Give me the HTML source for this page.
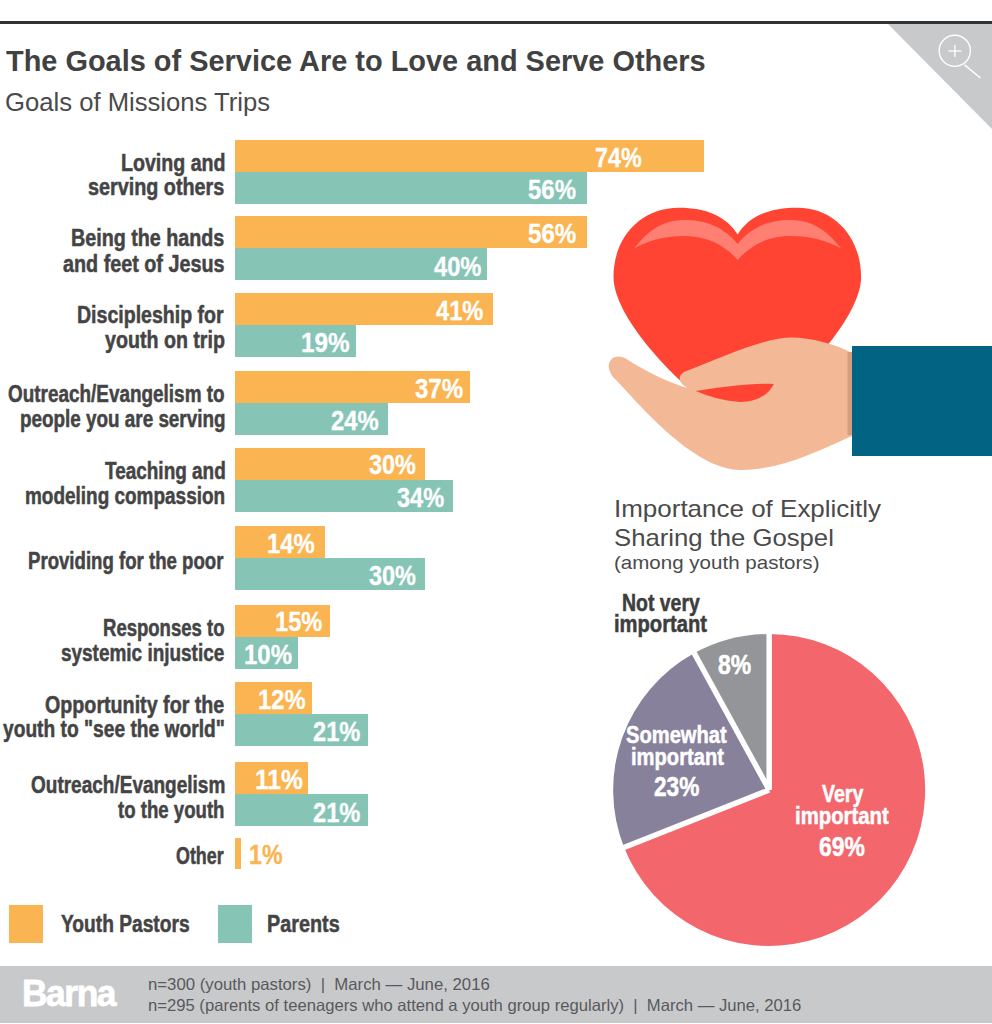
<!DOCTYPE html>
<html><head><meta charset="utf-8">
<style>
html,body{margin:0;padding:0;background:#fff;}
body{width:992px;height:1024px;position:relative;overflow:hidden;font-family:"Liberation Sans",sans-serif;}
.a{position:absolute;white-space:nowrap;}
.topline{position:absolute;left:0;top:21px;width:992px;height:3px;background:#333;}
.bar{position:absolute;left:235px;height:32px;}
.o{background:#FAB451;}
.t{background:#86C5B6;}
.lab{position:absolute;white-space:nowrap;font-weight:bold;color:#444;-webkit-text-stroke:0.5px currentColor;font-size:23px;line-height:1;transform-origin:0 0;}
.pct{position:absolute;white-space:nowrap;font-weight:bold;color:#fff;-webkit-text-stroke:0.3px currentColor;font-size:27px;line-height:1;transform-origin:0 0;}
.leg{position:absolute;top:905px;width:34px;height:38px;}
.tx{position:absolute;white-space:nowrap;line-height:1;transform-origin:0 0;}
.footer{position:absolute;left:0;top:966px;width:992px;height:57px;background:#C8C9CB;}
</style></head><body>
<div class="topline"></div>
<svg class="a" style="left:0;top:0" width="992" height="140">
 <polygon points="888,24 992,24 992,129" fill="#C8C9CB"/>
 <circle cx="954.8" cy="50.8" r="15.6" fill="none" stroke="#fff" stroke-width="1.4"/>
 <line x1="948.4" y1="51" x2="961.4" y2="51" stroke="#fff" stroke-width="1.3"/>
 <line x1="954.9" y1="45" x2="954.9" y2="57" stroke="#fff" stroke-width="1.3"/>
 <line x1="964.5" y1="64.8" x2="980.5" y2="78" stroke="#fff" stroke-width="1.5"/>
</svg>

<!-- bars -->
<div class="bar o" style="top:140px;width:469px"></div>
<div class="bar t" style="top:172px;width:352px"></div>
<div class="bar o" style="top:216px;width:352px"></div>
<div class="bar t" style="top:248px;width:252px"></div>
<div class="bar o" style="top:293px;width:258px"></div>
<div class="bar t" style="top:325px;width:121px"></div>
<div class="bar o" style="top:371px;width:235px"></div>
<div class="bar t" style="top:403px;width:153px"></div>
<div class="bar o" style="top:448px;width:190px"></div>
<div class="bar t" style="top:480px;width:218px"></div>
<div class="bar o" style="top:526px;width:90px"></div>
<div class="bar t" style="top:558px;width:190px"></div>
<div class="bar o" style="top:605px;width:95px"></div>
<div class="bar t" style="top:637px;width:63px"></div>
<div class="bar o" style="top:682px;width:77px"></div>
<div class="bar t" style="top:714px;width:133px"></div>
<div class="bar o" style="top:762px;width:73px"></div>
<div class="bar t" style="top:794px;width:133px"></div>
<div class="bar o" style="top:838px;width:6px;height:31px"></div>

<div class="lab" style="left:120.8px;top:151.5px;transform:scaleX(0.8525)">Loving and</div>
<div class="lab" style="left:88.1px;top:176.3px;transform:scaleX(0.8599)">serving others</div>
<div class="lab" style="left:71.4px;top:227.2px;transform:scaleX(0.8571)">Being the hands</div>
<div class="lab" style="left:63.3px;top:252.6px;transform:scaleX(0.8594)">and feet of Jesus</div>
<div class="lab" style="left:77.1px;top:303.8px;transform:scaleX(0.8494)">Discipleship for</div>
<div class="lab" style="left:104.5px;top:329.2px;transform:scaleX(0.8536)">youth on trip</div>
<div class="lab" style="left:7.7px;top:383.2px;transform:scaleX(0.8225)">Outreach/Evangelism to</div>
<div class="lab" style="left:19.8px;top:407.9px;transform:scaleX(0.8202)">people you are serving</div>
<div class="lab" style="left:104.5px;top:460.0px;transform:scaleX(0.8241)">Teaching and</div>
<div class="lab" style="left:24.6px;top:484.7px;transform:scaleX(0.8241)">modeling compassion</div>
<div class="lab" style="left:28.2px;top:550.3px;transform:scaleX(0.8091)">Providing for the poor</div>
<div class="lab" style="left:103.2px;top:617.0px;transform:scaleX(0.8054)">Responses to</div>
<div class="lab" style="left:60.9px;top:642.1px;transform:scaleX(0.8239)">systemic injustice</div>
<div class="lab" style="left:45.1px;top:693.7px;transform:scaleX(0.8558)">Opportunity for the</div>
<div class="lab" style="left:2.9px;top:717.9px;transform:scaleX(0.8343)">youth to &quot;see the world&quot;</div>
<div class="lab" style="left:30.7px;top:773.7px;transform:scaleX(0.8262)">Outreach/Evangelism</div>
<div class="lab" style="left:118.0px;top:799.1px;transform:scaleX(0.8092)">to the youth</div>
<div class="lab" style="left:175.8px;top:845.0px;transform:scaleX(0.7770)">Other</div>

<div class="pct" style="left:594.8px;top:144.7px;transform:scaleX(0.8642)">74%</div>
<div class="pct" style="left:527.6px;top:177.1px;transform:scaleX(0.8868)">56%</div>
<div class="pct" style="left:527.5px;top:221.0px;transform:scaleX(0.8943)">56%</div>
<div class="pct" style="left:434.2px;top:253.5px;transform:scaleX(0.8778)">40%</div>
<div class="pct" style="left:436.0px;top:298.0px;transform:scaleX(0.8741)">41%</div>
<div class="pct" style="left:301.4px;top:330.0px;transform:scaleX(0.9000)">19%</div>
<div class="pct" style="left:415.1px;top:376.0px;transform:scaleX(0.8906)">37%</div>
<div class="pct" style="left:330.7px;top:408.0px;transform:scaleX(0.8830)">24%</div>
<div class="pct" style="left:368.5px;top:451.9px;transform:scaleX(0.8679)">30%</div>
<div class="pct" style="left:396.9px;top:485.3px;transform:scaleX(0.8717)">34%</div>
<div class="pct" style="left:266.8px;top:530.5px;transform:scaleX(0.8827)">14%</div>
<div class="pct" style="left:368.5px;top:562.7px;transform:scaleX(0.8679)">30%</div>
<div class="pct" style="left:274.6px;top:609.1px;transform:scaleX(0.8750)">15%</div>
<div class="pct" style="left:243.5px;top:641.8px;transform:scaleX(0.8885)">10%</div>
<div class="pct" style="left:257.6px;top:687.0px;transform:scaleX(0.8788)">12%</div>
<div class="pct" style="left:313.1px;top:719.4px;transform:scaleX(0.8774)">21%</div>
<div class="pct" style="left:254.7px;top:767.0px;transform:scaleX(0.9100)">11%</div>
<div class="pct" style="left:313.1px;top:799.8px;transform:scaleX(0.8774)">21%</div>
<div class="pct" style="left:249.1px;top:841.8px;transform:scaleX(0.8595);color:#FAB451">1%</div>

<!-- heart & hand -->
<svg class="a" style="left:0;top:0" width="992" height="480" viewBox="0 0 992 480">
 <path d="M737.7 234.5 C726 216 706 207.7 679 207.7 C640 207.7 613.5 238 613.5 277 C613.5 315 670 380 737.7 428 C805.4 380 861.1 315 861.1 277 C861.1 238 835 207.7 797.6 207.7 C769 207.7 749 216 737.7 234.5 Z" fill="#FF4433"/>
 <path d="M634 248.6 C650 228 665 220 685 220 C712 220 728 232 737.7 244 C747 232 763 220 790 220 C810 220 825 228 841.3 248.6 C825 240 810 236 790 236 C765 236 748 248 737.7 260 C727 248 710 236 685 236 C665 236 650 240 634 248.6 Z" fill="#FF7F73"/>
 <path d="M852 353 C835 344 812 337.5 790 337.5 C765 338 725 356 684 372 C677 376 679 383 686 387 L687.6 388 C670 383 648 373 625 358 C612 352 603 364 613 377 C636 400 692 470 741 470 C782 470 820 450 852 436 Z" fill="#F3B996"/>
 <path d="M695.6 391.1 C720 387 755 383 773.9 383.9 C768 396 755 402 740 401.9 C722 401 708 396 695.6 391.1 Z" fill="#FF4433"/>
 <rect x="847.5" y="352" width="5" height="83" fill="#D39D7E"/>
 <rect x="852" y="346" width="140" height="110" fill="#036383"/>
</svg>

<!-- pie -->
<svg class="a" style="left:0;top:480px" width="992" height="480" viewBox="0 480 992 480">
 <path d="M769.2 790 L769.2 634 A156 156 0 1 1 624.1 847.4 Z" fill="#F2666C"/>
 <path d="M769.2 790 L624.1 847.4 A156 156 0 0 1 694 653.3 Z" fill="#87819C"/>
 <path d="M769.2 790 L694 653.3 A156 156 0 0 1 769.2 634 Z" fill="#939598"/>
 <line x1="769.2" y1="790" x2="769.2" y2="620" stroke="#fff" stroke-width="5.5"/>
 <line x1="769.2" y1="790" x2="610" y2="853" stroke="#fff" stroke-width="5.5"/>
 <line x1="769.2" y1="790" x2="687" y2="640" stroke="#fff" stroke-width="5.5"/>
</svg>

<!-- legend -->
<div class="leg o" style="left:9px"></div>
<div class="leg t" style="left:218px"></div>

<!-- footer -->
<div class="footer"></div>
<div class="tx" style="left:6.0px;top:45.6px;font-size:29.5px;font-weight:bold;color:#414141;transform:scaleX(0.9803)">The Goals of Service Are to Love and Serve Others</div>
<div class="tx" style="left:5.4px;top:89.9px;font-size:25.5px;color:#4a4a4a;transform:scaleX(1.0059)">Goals of Missions Trips</div>
<div class="tx" style="left:613.9px;top:496.9px;font-size:24px;color:#4a4a4a;transform:scaleX(1.0824)">Importance of Explicitly</div>
<div class="tx" style="left:614.1px;top:526.1px;font-size:24px;color:#4a4a4a;transform:scaleX(1.0700)">Sharing the Gospel</div>
<div class="tx" style="left:614.1px;top:552.9px;font-size:19px;color:#4a4a4a;transform:scaleX(1.0809)">(among youth pastors)</div>
<div class="tx" style="left:622.3px;top:592.3px;font-size:23px;font-weight:bold;-webkit-text-stroke:0.5px currentColor;color:#3d3d3d;transform:scaleX(0.8451)">Not very</div>
<div class="tx" style="left:614.3px;top:612.8px;font-size:23px;font-weight:bold;-webkit-text-stroke:0.5px currentColor;color:#3d3d3d;transform:scaleX(0.8771)">important</div>
<div class="tx" style="left:718.0px;top:651.5px;font-size:27px;font-weight:bold;-webkit-text-stroke:0.5px currentColor;color:#fff;transform:scaleX(0.8500)">8%</div>
<div class="tx" style="left:626.3px;top:724.4px;font-size:23px;font-weight:bold;-webkit-text-stroke:0.5px currentColor;color:#fff;transform:scaleX(0.8754)">Somewhat</div>
<div class="tx" style="left:630.5px;top:746.2px;font-size:23px;font-weight:bold;-webkit-text-stroke:0.5px currentColor;color:#fff;transform:scaleX(0.8762)">important</div>
<div class="tx" style="left:653.7px;top:774.0px;font-size:27px;font-weight:bold;-webkit-text-stroke:0.5px currentColor;color:#fff;transform:scaleX(0.8377)">23%</div>
<div class="tx" style="left:821.7px;top:782.8px;font-size:23px;font-weight:bold;-webkit-text-stroke:0.5px currentColor;color:#fff;transform:scaleX(0.8510)">Very</div>
<div class="tx" style="left:795.4px;top:804.5px;font-size:23px;font-weight:bold;-webkit-text-stroke:0.5px currentColor;color:#fff;transform:scaleX(0.8848)">important</div>
<div class="tx" style="left:819.1px;top:834.2px;font-size:27px;font-weight:bold;-webkit-text-stroke:0.5px currentColor;color:#fff;transform:scaleX(0.8491)">69%</div>
<div class="tx" style="left:61.0px;top:912.7px;font-size:23px;font-weight:bold;-webkit-text-stroke:0.5px currentColor;color:#444;transform:scaleX(0.8338)">Youth Pastors</div>
<div class="tx" style="left:266.9px;top:912.7px;font-size:23px;font-weight:bold;-webkit-text-stroke:0.5px currentColor;color:#444;transform:scaleX(0.8614)">Parents</div>
<div class="tx" style="left:22.2px;top:975.0px;font-size:37px;font-weight:bold;letter-spacing:-1.5px;-webkit-text-stroke:0.8px currentColor;color:#fff;transform:scaleX(0.9561)">Barna</div>
<div class="tx" style="left:148.1px;top:975.7px;font-size:16.5px;color:#58595B;transform:scaleX(1.0149)">n=300 (youth pastors) &nbsp;|&nbsp; March — June, 2016</div>
<div class="tx" style="left:148.1px;top:996.5px;font-size:16.5px;color:#58595B;transform:scaleX(1.0087)">n=295 (parents of teenagers who attend a youth group regularly) &nbsp;|&nbsp; March — June, 2016</div>
</body></html>
